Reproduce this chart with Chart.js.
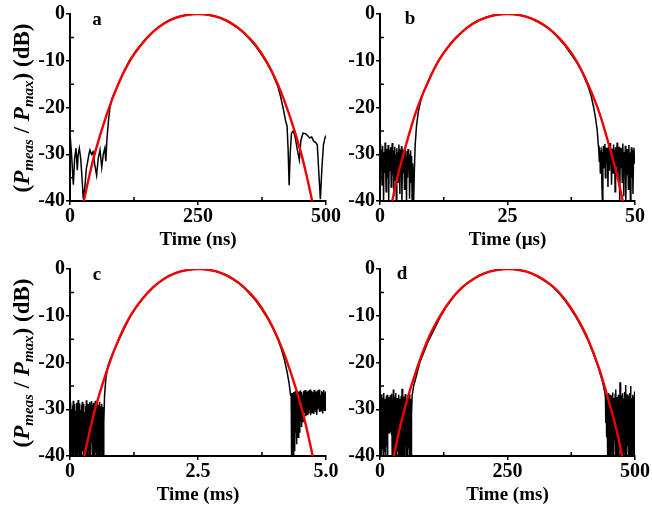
<!DOCTYPE html>
<html><head><meta charset="utf-8">
<script src="https://cdn.jsdelivr.net/npm/chart.js@4.4.1/dist/chart.umd.min.js"></script>
<style>
html,body{margin:0;padding:0;background:#fff;}
#wrap{position:relative;width:652px;height:510px;overflow:hidden;background:#fff;}
canvas{position:absolute;left:0;top:0;}
.lbl{position:absolute;font-family:"Liberation Serif","Times New Roman",serif;font-weight:bold;color:#000;white-space:nowrap;line-height:1;}
.ytitle{font-size:23px;transform:translate(-50%,-50%) rotate(-90deg);}
.ytitle sub{font-size:15px;vertical-align:-4px;}
.letter{font-size:19px;transform:translate(-50%,-50%);}
</style></head><body>
<div id="wrap">
<canvas id="ca" width="652" height="510"></canvas>
<canvas id="cb" width="652" height="510"></canvas>
<canvas id="cc" width="652" height="510"></canvas>
<canvas id="cd" width="652" height="510"></canvas>
<div class="lbl ytitle" style="left:23px;top:107.5px">(<i>P</i><sub><i>meas</i></sub> / <i>P</i><sub><i>max</i></sub>) (dB)</div>
<div class="lbl ytitle" style="left:23px;top:362.5px">(<i>P</i><sub><i>meas</i></sub> / <i>P</i><sub><i>max</i></sub>) (dB)</div>
<div class="lbl letter" style="left:97px;top:18px">a</div>
<div class="lbl letter" style="left:410px;top:17px">b</div>
<div class="lbl letter" style="left:97px;top:273px">c</div>
<div class="lbl letter" style="left:402px;top:272px">d</div>
</div>
<script>
// ---------------- DATA ----------------
const yTicks = [-40, -30, -20, -10, 0];
const yTickLabels = ['-40', '-30', '-20', '-10', '0'];
const yMinor = [-35, -25, -15, -5];

const xTicksA = [0, 250, 500], xTickLabelsA = ['0', '250', '500'], xMinorA = [125, 375];
const xTicksB = [0, 25, 50],   xTickLabelsB = ['0', '25', '50'],   xMinorB = [12.5, 37.5];
const xTicksC = [0, 2.5, 5],   xTickLabelsC = ['0', '2.5', '5.0'], xMinorC = [1.25, 3.75];
const xTicksD = [0, 250, 500], xTickLabelsD = ['0', '250', '500'], xMinorD = [125, 375];

// fitted curve (red), dB values and the time of each value per panel
const fitDb = [-40, -34.5, -29.6, -21.4, -15.05, -10.2, -6.6, -3.95, -2.1, -0.9, -0.22, 0,
               -0.22, -0.9, -2.1, -3.95, -6.6, -10.2, -15.05, -21.4, -29.6, -34.5, -40];
const fitTimeA = [27, 38, 49, 72, 94, 116, 139, 161, 183, 205, 228, 250, 272, 295, 317, 339, 362, 384, 406, 428, 451, 462, 473];
const fitTimeB = [2.4, 3.5, 4.7, 6.9, 9.2, 11.4, 13.7, 16.0, 18.2, 20.5, 22.7, 25.0, 27.3, 29.5, 31.8, 34.0, 36.3, 38.6, 40.8, 43.1, 45.3, 46.5, 47.6];
const fitTimeC = [0.28, 0.39, 0.50, 0.73, 0.95, 1.17, 1.40, 1.62, 1.84, 2.06, 2.29, 2.51, 2.73, 2.96, 3.18, 3.40, 3.63, 3.85, 4.07, 4.29, 4.52, 4.63, 4.74];
const fitTimeD = [27, 38, 49, 72, 94, 117, 139, 161, 184, 206, 229, 251, 273, 296, 318, 341, 363, 385, 408, 430, 452, 464, 475];

// measured curve (black), panel a: [time ns, dB]
const measA = [[0,-25.5],[3,-30],[6.5,-36.5],[9,-31],[11.7,-28.7],[14.3,-33.4],[16,-30],[18.2,-28.7],[21,-31],[24,-36],[26,-39.6],[29,-37],[32,-33],[34,-31.9],[37,-30],[39,-29.1],[42,-30],[45,-29.5],[48,-32],[52,-34.5],[55,-31],[58.6,-29.1],[62,-32.8],[65,-30],[68,-28.7],[70,-31.5],[72,-27],[75,-23],[78,-20],[82,-18.2],[86,-17],[94,-15.2],[105,-12.3],[116,-10.0],[128,-8.0],[139,-6.5],[150,-5.1],[161,-3.9],[172,-2.9],[183,-2.0],[194,-1.3],[205,-0.8],[217,-0.4],[228,-0.15],[239,-0.05],[250,0],[261,-0.05],[272,-0.2],[283,-0.5],[295,-0.9],[306,-1.5],[317,-2.2],[328,-3.0],[339,-4.0],[350,-5.3],[362,-6.8],[373,-8.5],[384,-10.4],[395,-12.6],[406,-15.5],[412,-18],[417,-20.5],[421,-22.8],[424,-24],[426,-29],[428,-36.6],[430,-30],[432.5,-25.5],[436,-25],[440,-26.5],[444,-29],[448,-31.2],[451,-27],[455,-25.5],[460,-25.6],[464,-26],[468,-26.5],[472,-26.3],[476,-27.2],[480,-27.5],[483,-28],[486,-34],[489,-39.6],[492,-33],[495,-28],[498,-26.5],[500,-26]];

// panel b (µs)
const noiseSpanLeftB = [0, 6.5];
const noiseLeftB = [-30.5,-27.8,-33,-29,-36.5,-28.2,-31,-40,-29.5,-34,
  -27.5,-32,-38,-28.8,-30.5,-35,-28,-40,-31.5,-29,
  -33.5,-28.5,-37,-30,-27.6,-34.5,-29.2,-39,-31,-28.4,
  -35.5,-30,-40,-28.7,-32.5,-29.5,-36,-27.9,-31.5,-38.5,
  -29,-33,-28.3,-40,-30.2,-34,-29,-31.8,-37.5,-28.6,
  -32,-30.5,-40,-29.3,-35,-28.9,-33.2,-30,-39.5,-31,
  -29.2,-36,-30.4,-40,-32,-34.5];
const measMidB = [[6.6,-40],[6.75,-33],[6.9,-28],[7.15,-24],[7.5,-21],[8.0,-18.5],[8.6,-16.5],[9.2,-15.2],[10.3,-12.4],[11.4,-10.1],[12.6,-8.1],[13.7,-6.5],[14.8,-5.1],[16.0,-3.9],[17.1,-2.9],[18.2,-2.0],[19.3,-1.3],[20.5,-0.8],[21.6,-0.4],[22.7,-0.15],[23.9,-0.05],[25.0,0],[26.1,-0.05],[27.3,-0.2],[28.4,-0.5],[29.5,-0.9],[30.6,-1.5],[31.8,-2.2],[32.9,-3.0],[34.0,-4.0],[35.1,-5.3],[36.3,-6.8],[37.4,-8.5],[38.6,-10.4],[39.7,-12.6],[40.8,-15.5],[41.4,-17.5],[41.9,-20],[42.3,-22.5],[42.6,-25],[42.8,-28]];
const noiseSpanRightB = [42.9, 50];
const noiseRightB = [-29,-31.5,-28.5,-34,-30,-29.5,-36,-40,-31,-28.2,
  -33,-29.5,-27.8,-35,-30.5,-28.6,-32,-29,-37,-28.3,
  -30.5,-33.5,-27.6,-31,-29.4,-36.5,-28.8,-30,-34,-27.9,
  -31.8,-29,-38,-28.5,-32.5,-30,-27.5,-35.5,-29.2,-31,
  -28.4,-40,-30.6,-33,-28.7,-29.8,-36,-27.7,-31.4,-39,
  -29.5,-32.8,-28.2,-40,-30.3,-34.5,-28.9,-31,-37.5,-28,
  -33,-29.6,-40,-30.8,-28.5,-35,-29.1,-38.5,-31.2,-28.6,
  -32,-30];

// panel c (ms)
const noiseSpanLeftC = [0, 0.64];
const noiseLeftC = [-29,-40,-28.5,-38.5,-30,-40,-29.2,-39,-28.2,-40,-29.8,-37.5,-28.9,-40,-30.4,-40,-28.6,-38,-29.5,-40,
  -28,-39.5,-29.9,-40,-28.7,-36.5,-30.2,-40,-29.1,-40,-28.4,-38.8,-29.6,-40,-28.8,-39.2,-30.6,-40,-29.3,-37.8,
  -28.1,-40,-29.7,-40,-28.9,-38.4,-30,-40,-28.5,-39.6,-29.4,-40,-28.3,-37,-30.1,-40,-29,-40,-28.6,-38.9,
  -29.8,-40,-28.2,-39.3,-29.5,-40,-30.3,-38.1,-28.7,-40,-29.1,-40,-28.4,-39.7,-30,-40,-29.3,-38.6,-28.8,-40,
  -29.5];
const measMidC = [[0.648,-40],[0.66,-33],[0.675,-27],[0.70,-23.5],[0.74,-20.8],[0.79,-19.2],[0.86,-17.4],[0.95,-15.3],[1.06,-12.7],[1.17,-10.3],[1.29,-8.2],[1.40,-6.6],[1.51,-5.2],[1.62,-3.95],[1.73,-2.95],[1.84,-2.05],[1.95,-1.35],[2.06,-0.85],[2.18,-0.45],[2.29,-0.2],[2.40,-0.05],[2.51,0],[2.62,-0.05],[2.73,-0.2],[2.85,-0.5],[2.96,-0.9],[3.07,-1.5],[3.18,-2.2],[3.29,-3.0],[3.40,-4.0],[3.51,-5.3],[3.63,-6.8],[3.74,-8.5],[3.85,-10.4],[3.96,-12.6],[4.07,-15.3],[4.13,-17.2],[4.19,-19.5],[4.24,-22],[4.28,-24.5],[4.31,-27]];
const noiseSpanRightC = [4.32, 5.0];
const noiseRightC = [-27,-40,-26.5,-38,-27.2,-40,-26.3,-36.5,-26.8,-39,-26.1,-35,-27,-37.5,-26.4,-34,-26.9,-36,-26.2,-33.5,
  -26.7,-35,-26,-32.5,-26.6,-33.8,-26.3,-31.8,-26.9,-32.6,-26.1,-31.2,-26.5,-30.8,-25.9,-31.5,-26.7,-30.4,-26.2,-31.1,
  -26.8,-29.8,-26,-30.9,-26.4,-30.2,-25.8,-31.3,-26.6,-29.6,-26.1,-30.7,-26.9,-30,-26.3,-31,-25.9,-29.9,-26.5,-30.5,
  -26.2,-29.4,-26.8,-31.2,-26,-30.1,-26.6,-29.7,-25.8,-30.6,-26.4,-29.5,-26.9,-30.3,-26.1,-29.8,-26.7,-30.9,-26.3,-29.6,
  -25.9,-30.2,-26.5,-29.9,-26.2,-30.4];

// panel d (ms)
const noiseSpanLeftD = [0, 61];
const noiseLeftD = [-27,-40,-28.2,-37,-26.8,-40,-27.5,-38.5,-28.8,-40,-26.5,-39,-27.8,-36,-28.5,-40,-27.2,-38,-26.9,-40,
  -28,-34.5,-27.4,-35,-28.6,-33.8,-27,-34.8,-28.3,-35.5,-26.7,-40,-27.9,-38.7,-25.8,-40,-28.1,-39.4,-27.3,-40,
  -26.6,-37.2,-28.4,-40,-27.6,-39,-28.9,-40,-26.9,-38.2,-27.7,-40,-28.2,-36.8,-27.1,-40,-25.6,-39.5,-28,-40,
  -27.3,-38,-28.7,-40,-26.8,-37.6,-27.9,-40,-28.4,-39.2,-27,-40,-28.1,-38.4,-27.5,-40,-26.7,-39,-27.8,-40];
const measMidD = [[61.5,-40],[62,-31],[63,-27],[66,-25],[71,-23],[78,-20],[86,-17.8],[94,-15.6],[106,-13],[117,-10.5],[128,-8.4],[139,-6.7],[150,-5.2],[161,-4.0],[172,-3.0],[184,-2.1],[195,-1.35],[206,-0.85],[217,-0.45],[229,-0.2],[240,-0.05],[251,0],[262,-0.05],[273,-0.2],[285,-0.5],[296,-0.9],[307,-1.5],[318,-2.2],[329,-3.0],[341,-4.0],[352,-5.3],[363,-6.8],[374,-8.5],[385,-10.4],[396,-12.6],[408,-15.3],[418,-18],[428,-21],[436,-24],[441,-26.5]];
const noiseSpanRightD = [442, 500];
const noiseRightD = [-27.5,-33,-26.8,-36,-28,-40,-27.2,-38,-26.5,-40,-27.8,-37,-26.9,-40,-28.3,-39,-27.1,-40,-26.4,-38.5,
  -27.6,-40,-28.1,-36.5,-26.7,-40,-25.8,-39,-27.4,-40,-28.5,-37.8,-26.9,-40,-27.3,-38.6,-24.2,-40,-28,-39.4,
  -27,-40,-26.6,-37.2,-28.2,-40,-27.7,-38.8,-26.3,-40,-24.8,-39.6,-27.9,-40,-26.8,-38,-28.4,-40,-27.2,-36.9,
  -26.5,-40,-25,-39,-27.6,-40,-28.1,-38.3,-26.9,-40,-27.4,-37.5,-26.2,-40];

// ---------------- BUILD ----------------
const pairs = arr => arr.map(p => ({x: p[0], y: p[1]}));
const noise = (span, vals) => vals.map((v, i) => ({x: span[0] + (span[1] - span[0]) * i / (vals.length - 1), y: v}));

const panels = [
  {id: 'ca', area: {l: 70, t: 14, r: 326, b: 201}, fit: fitTimeA, xMax: 500, xTicks: xTicksA, xLabels: xTickLabelsA, xMinor: xMinorA, xTitle: 'Time (ns)',
   meas: pairs(measA)},
  {id: 'cb', area: {l: 380, t: 14, r: 635, b: 201}, fit: fitTimeB, xMax: 50, xTicks: xTicksB, xLabels: xTickLabelsB, xMinor: xMinorB, xTitle: 'Time (\u00B5s)',
   meas: [...noise(noiseSpanLeftB, noiseLeftB), ...pairs(measMidB), ...noise(noiseSpanRightB, noiseRightB)]},
  {id: 'cc', area: {l: 70, t: 269, r: 326, b: 456}, fit: fitTimeC, xMax: 5, xTicks: xTicksC, xLabels: xTickLabelsC, xMinor: xMinorC, xTitle: 'Time (ms)',
   meas: [...noise(noiseSpanLeftC, noiseLeftC), ...pairs(measMidC), ...noise(noiseSpanRightC, noiseRightC)]},
  {id: 'cd', area: {l: 380, t: 269, r: 635, b: 456}, fit: fitTimeD, xMax: 500, xTicks: xTicksD, xLabels: xTickLabelsD, xMinor: xMinorD, xTitle: 'Time (ms)',
   meas: [...noise(noiseSpanLeftD, noiseLeftD), ...pairs(measMidD), ...noise(noiseSpanRightD, noiseRightD)]}
];

const FONT_FAMILY = '"Liberation Serif", "Times New Roman", serif';
const tickFont = {family: FONT_FAMILY, size: 20, weight: 'bold', lineHeight: 1.15};
const titleFont = {family: FONT_FAMILY, size: 19, weight: 'bold', lineHeight: 1.2};
const WY = 40, HX = 50;

function makePanel(p) {
  const A = p.area;
  const minorPlugin = {
    id: 'minorTicks',
    afterDraw(chart) {
      const {ctx, chartArea: a, scales: {x, y}} = chart;
      ctx.save();
      ctx.strokeStyle = '#000';
      ctx.lineWidth = 1.5;
      ctx.beginPath();
      yMinor.forEach(v => { const py = y.getPixelForValue(v); ctx.moveTo(a.left, py); ctx.lineTo(a.left + 4, py); });
      p.xMinor.forEach(v => { const px = x.getPixelForValue(v); ctx.moveTo(px, a.bottom); ctx.lineTo(px, a.bottom - 4); });
      ctx.stroke();
      ctx.restore();
    }
  };
  new Chart(document.getElementById(p.id), {
    type: 'line',
    data: {
      datasets: [
        {data: p.fit.map((t, i) => ({x: t, y: fitDb[i]})), borderColor: '#f00000', borderWidth: 2.4, pointRadius: 0,
         cubicInterpolationMode: 'monotone', order: 0},
        {data: p.meas, borderColor: '#000000', borderWidth: 1.5, pointRadius: 0, tension: 0, order: 1}
      ]
    },
    options: {
      responsive: false, animation: false, events: [],
      layout: {autoPadding: false, padding: {left: A.l - WY, top: A.t, right: 652 - A.r, bottom: 510 - A.b - HX}},
      plugins: {legend: {display: false}, tooltip: {enabled: false}},
      scales: {
        x: {
          type: 'linear', min: 0, max: p.xMax,
          afterBuildTicks: s => { s.ticks = p.xTicks.map(v => ({value: v})); },
          afterFit: s => { s.height = HX; },
          ticks: {callback: (v, i) => p.xLabels[i], font: tickFont, color: '#000', padding: 0, maxRotation: 0, autoSkip: false},
          grid: {drawOnChartArea: false, drawTicks: true, tickLength: 4, color: '#000', lineWidth: 1.5},
          border: {display: true, color: '#000', width: 2},
          title: {display: true, text: p.xTitle, font: titleFont, color: '#000', padding: {top: 0, bottom: 0}}
        },
        y: {
          type: 'linear', min: -40, max: 0,
          afterBuildTicks: s => { s.ticks = yTicks.map(v => ({value: v})); },
          afterFit: s => { s.width = WY; },
          ticks: {callback: (v, i) => yTickLabels[i], font: tickFont, color: '#000', padding: 1, autoSkip: false},
          grid: {drawOnChartArea: false, drawTicks: true, tickLength: 4, color: '#000', lineWidth: 1.5},
          border: {display: true, color: '#000', width: 2}
        }
      }
    },
    plugins: [minorPlugin]
  });
}
panels.forEach(makePanel);
</script>
</body></html>
